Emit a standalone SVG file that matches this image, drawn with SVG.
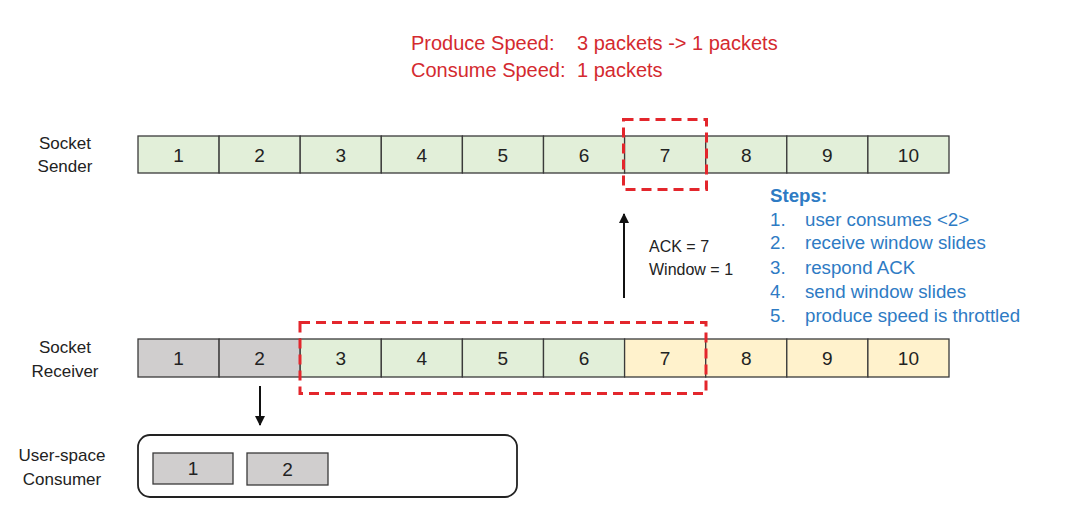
<svg xmlns="http://www.w3.org/2000/svg" width="1080" height="527" viewBox="0 0 1080 527">
<defs>
<style>
.cell{stroke:#3a3a3a;stroke-width:1.3;}
.g{fill:#e2efd9;}
.gr{fill:#d0cece;}
.y{fill:#fff2cc;}
.num{font-family:"Liberation Sans",Arial,sans-serif;font-size:19px;fill:#222;text-anchor:middle;}
.lbl{font-family:"Liberation Sans",Arial,sans-serif;font-size:17px;fill:#222;text-anchor:middle;}
.red{font-family:"Liberation Sans",Arial,sans-serif;font-size:20px;fill:#d42a2f;}
.blue{font-family:"Liberation Sans",Arial,sans-serif;font-size:18.7px;fill:#2e7bc4;}
.dash{fill:none;stroke:#e3262c;stroke-width:3;stroke-dasharray:10,6;}
.ack{font-family:"Liberation Sans",Arial,sans-serif;font-size:16px;fill:#222;}
</style>
<marker id="ah" viewBox="0 0 10 10" refX="9" refY="5" markerWidth="5" markerHeight="5" orient="auto">
<path d="M0,0 L10,5 L0,10 z" fill="#111"/>
</marker>
</defs>
<rect width="1080" height="527" fill="#ffffff"/>

<g id="title">
<text class="red" x="411" y="50">Produce Speed:</text>
<text class="red" x="577" y="50">3 packets -&gt; 1 packets</text>
<text class="red" x="411" y="77">Consume Speed:</text>
<text class="red" x="577" y="77">1 packets</text>
</g>

<g id="sender">
<text class="lbl" x="65" y="149">Socket</text>
<text class="lbl" x="65" y="172">Sender</text>
<g class="cell g">
<rect x="138" y="136" width="81.1" height="37"/>
<rect x="219.1" y="136" width="81.1" height="37"/>
<rect x="300.2" y="136" width="81.1" height="37"/>
<rect x="381.3" y="136" width="81.1" height="37"/>
<rect x="462.4" y="136" width="81.1" height="37"/>
<rect x="543.5" y="136" width="81.1" height="37"/>
<rect x="624.6" y="136" width="81.1" height="37"/>
<rect x="705.7" y="136" width="81.1" height="37"/>
<rect x="786.8" y="136" width="81.1" height="37"/>
<rect x="867.9" y="136" width="81.1" height="37"/>
</g>
<text class="num" x="178.5" y="161.5">1</text>
<text class="num" x="259.6" y="161.5">2</text>
<text class="num" x="340.7" y="161.5">3</text>
<text class="num" x="421.8" y="161.5">4</text>
<text class="num" x="502.9" y="161.5">5</text>
<text class="num" x="584" y="161.5">6</text>
<text class="num" x="665.1" y="161.5">7</text>
<text class="num" x="746.2" y="161.5">8</text>
<text class="num" x="827.3" y="161.5">9</text>
<text class="num" x="908.4" y="161.5">10</text>
<rect class="dash" x="623.5" y="119.5" width="83" height="70"/>
</g>

<g id="receiver">
<text class="lbl" x="65" y="353">Socket</text>
<text class="lbl" x="65" y="377">Receiver</text>
<rect class="cell gr" x="138" y="339" width="81.1" height="38"/>
<rect class="cell gr" x="219.1" y="339" width="81.1" height="38"/>
<rect class="cell g" x="300.2" y="339" width="81.1" height="38"/>
<rect class="cell g" x="381.3" y="339" width="81.1" height="38"/>
<rect class="cell g" x="462.4" y="339" width="81.1" height="38"/>
<rect class="cell g" x="543.5" y="339" width="81.1" height="38"/>
<rect class="cell y" x="624.6" y="339" width="81.1" height="38"/>
<rect class="cell y" x="705.7" y="339" width="81.1" height="38"/>
<rect class="cell y" x="786.8" y="339" width="81.1" height="38"/>
<rect class="cell y" x="867.9" y="339" width="81.1" height="38"/>
<text class="num" x="178.5" y="365">1</text>
<text class="num" x="259.6" y="365">2</text>
<text class="num" x="340.7" y="365">3</text>
<text class="num" x="421.8" y="365">4</text>
<text class="num" x="502.9" y="365">5</text>
<text class="num" x="584" y="365">6</text>
<text class="num" x="665.1" y="365">7</text>
<text class="num" x="746.2" y="365">8</text>
<text class="num" x="827.3" y="365">9</text>
<text class="num" x="908.4" y="365">10</text>
<rect class="dash" x="300" y="322.5" width="406" height="71"/>
</g>

<g id="consumer">
<text class="lbl" x="62" y="461">User-space</text>
<text class="lbl" x="62" y="485">Consumer</text>
<rect x="138" y="435" width="379" height="62" rx="12" fill="#fff" stroke="#222" stroke-width="1.8"/>
<rect class="cell gr" x="153" y="453" width="80" height="31"/>
<rect class="cell gr" x="247" y="453" width="81" height="32"/>
<text class="num" x="193" y="475">1</text>
<text class="num" x="287.5" y="476">2</text>
</g>

<g id="ack-label">
<text class="ack" x="649" y="252">ACK = 7</text>
<text class="ack" x="649" y="275">Window = 1</text>
</g>

<g id="steps">
<text class="blue" x="770" y="202" font-weight="bold">Steps:</text>
<text class="blue" x="770" y="226">1.</text><text class="blue" x="805" y="226">user consumes &lt;2&gt;</text>
<text class="blue" x="770" y="249">2.</text><text class="blue" x="805" y="249">receive window slides</text>
<text class="blue" x="770" y="274">3.</text><text class="blue" x="805" y="274">respond ACK</text>
<text class="blue" x="770" y="298">4.</text><text class="blue" x="805" y="298">send window slides</text>
<text class="blue" x="770" y="322">5.</text><text class="blue" x="805" y="322">produce speed is throttled</text>
</g>

<g id="connectors" stroke="#111" stroke-width="2" fill="none">
<line x1="624" y1="298" x2="624" y2="214" marker-end="url(#ah)"/>
<line x1="260" y1="386" x2="260" y2="425" marker-end="url(#ah)"/>
</g>
</svg>
